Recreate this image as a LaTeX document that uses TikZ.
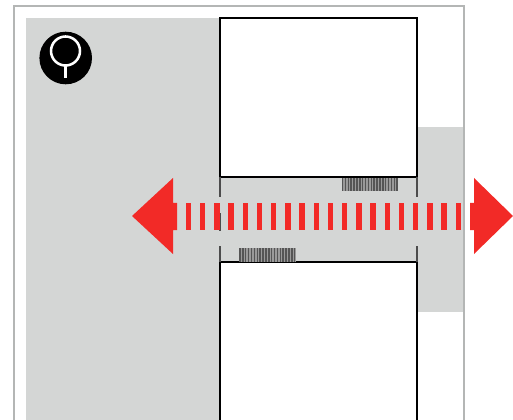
\documentclass[tikz,border=0pt]{standalone}
\definecolor{wallgrey}{HTML}{D4D6D5}
\definecolor{framegrey}{HTML}{B4B6B5}
\definecolor{arrowred}{HTML}{F22A27}
\definecolor{hatchbase}{HTML}{9A9A9A}
\definecolor{hatchgrey}{HTML}{555555}
\tikzset{
  framestyle/.style={draw=framegrey,line width=1.4pt},
  roomstyle/.style={draw=black,line width=1.5pt,fill=white},
  stubstyle/.style={draw=black!70,line width=1.6pt},
  hatchstyle/.style={draw=hatchgrey,line width=1.1pt},
  dashbar/.style={fill=arrowred},
  arrowstyle/.style={fill=arrowred}
}
\begin{document}
\begin{tikzpicture}[x=0.75pt,y=-0.75pt]
\useasboundingbox (0,0) rectangle (513,420);
\fill[white] (0,0) rectangle (513,420);
% grey surfaces
\fill[wallgrey] (26,18) rectangle (220,420);
\fill[wallgrey] (220,177) rectangle (417,262);
\fill[wallgrey] (417,127) rectangle (464,312);
% outer frame
\draw[framestyle] (14,420) -- (14,6) -- (464,6) -- (464,420);
% rooms
\draw[roomstyle] (220,18) rectangle (417,177);
\draw[roomstyle] (220,420.0) -- (220,262) -- (417,262) -- (417,420);
% door stubs
\draw[stubstyle] (220,177) -- (220,197);
\draw[stubstyle] (220,213) -- (220,231);
\draw[stubstyle] (220,246) -- (220,262);
\draw[stubstyle] (417,177) -- (417,197);
\draw[stubstyle] (417,246) -- (417,262);
% hatches
\fill[hatchbase] (239,248) rectangle (295.5,261.5);
\fill[hatchbase] (341.5,178) rectangle (398,191);
\foreach \i in {0,...,19} {
  \draw[hatchstyle] (240+2.88*\i,248) -- (240+2.88*\i,261.5);
  \draw[hatchstyle] (342.5+2.88*\i,178) -- (342.5+2.88*\i,191);
}
% north symbol
\fill[black] (65.7,58) circle (26.3);
\draw[white,line width=1.9pt] (65.5,51) circle (14.5);
\draw[white,line width=1.9pt] (65.5,65.5) -- (65.5,78);
% red arrow
\fill[arrowstyle] (132,216) -- (173,178) -- (173,203) -- (177,203) -- (177,230) -- (173,230) -- (173,254) -- cycle;
\fill[arrowstyle] (513,216) -- (474,178) -- (474,203) -- (470,203) -- (470,230) -- (474,230) -- (474,254) -- cycle;
\foreach \i in {0,...,19} {
  \fill[dashbar] (185.8+14.2*\i,203) rectangle ++(5.3,27);
}
\end{tikzpicture}
\end{document}
